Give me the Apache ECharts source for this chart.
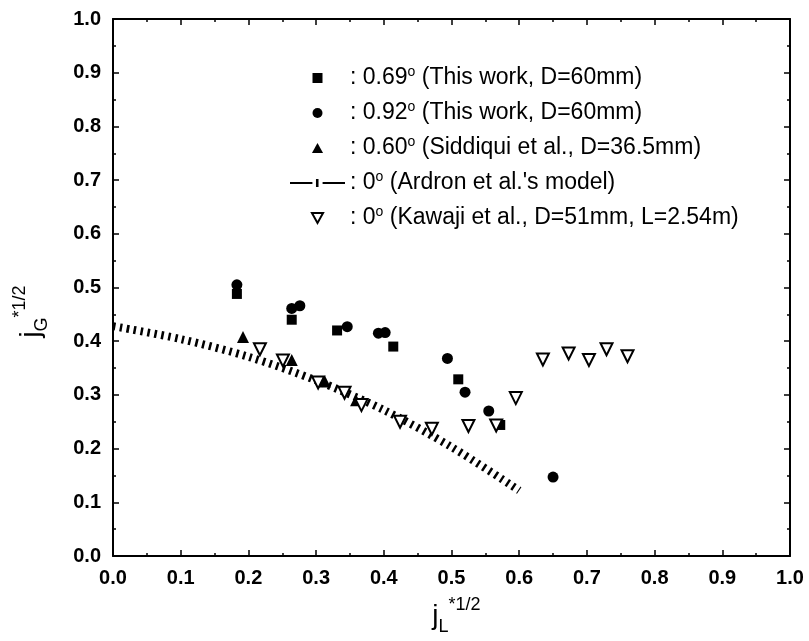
<!DOCTYPE html>
<html>
<head>
<meta charset="utf-8">
<script src="https://cdn.jsdelivr.net/npm/echarts@6/dist/echarts.min.js"></script>
<style>
  html, body { margin: 0; padding: 0; background: #fff; }
  #chart { width: 809px; height: 641px; }
</style>
</head>
<body>
<div id="chart"></div>
<script>
// Axis ticks (both axes share the same 0.0 .. 1.0 range)
const axisTicks = [0.0, 0.1, 0.2, 0.3, 0.4, 0.5, 0.6, 0.7, 0.8, 0.9, 1.0];

// 0.69 deg, this work, D = 60 mm  (jL*1/2, jG*1/2)
const incl069X = [0.183, 0.264, 0.331, 0.414, 0.510, 0.572];
const incl069Y = [0.488, 0.440, 0.420, 0.390, 0.329, 0.244];

// 0.92 deg, this work, D = 60 mm
const incl092X = [0.183, 0.264, 0.276, 0.346, 0.392, 0.402, 0.494, 0.520, 0.555, 0.650];
const incl092Y = [0.505, 0.461, 0.466, 0.427, 0.415, 0.416, 0.368, 0.305, 0.270, 0.147];

// 0.60 deg, Siddiqui et al., D = 36.5 mm
const siddiquiX = [0.192, 0.264, 0.313, 0.359];
const siddiquiY = [0.408, 0.365, 0.325, 0.290];

// 0 deg, Ardron et al.'s model
const ardronX = [0.0, 0.1, 0.2, 0.3, 0.4, 0.5, 0.6];
const ardronY = [0.428, 0.404, 0.371, 0.327, 0.272, 0.203, 0.122];

// 0 deg, Kawaji et al., D = 51 mm, L = 2.54 m
const kawajiX = [0.217, 0.251, 0.303, 0.342, 0.367, 0.424, 0.471, 0.525, 0.566, 0.595, 0.635, 0.673, 0.703, 0.729, 0.760];
const kawajiY = [0.385, 0.364, 0.323, 0.304, 0.281, 0.250, 0.237, 0.242, 0.243, 0.294, 0.366, 0.377, 0.365, 0.385, 0.372];

// Legend entries: series name -> rich label
const legendLabels = {
  s069: ': 0.69{sup|o} (This work, D=60mm)',
  s092: ': 0.92{sup|o} (This work, D=60mm)',
  s060: ': 0.60{sup|o} (Siddiqui et al., D=36.5mm)',
  ardron: ': 0{sup|o} (Ardron et al.\'s model)',
  kawaji: ': 0{sup|o} (Kawaji et al., D=51mm, L=2.54m)'
};

const FONT = '"Liberation Sans", Arial, Helvetica, sans-serif';
const zip = (xs, ys) => xs.map((x, i) => [x, ys[i]]);

function makeAxis(position, showLabels, name, nameGap, namePadding) {
  return {
    type: 'value',
    position: position,
    min: axisTicks[0],
    max: axisTicks[axisTicks.length - 1],
    interval: 0.1,
    axisLine: { show: true, onZero: false, lineStyle: { color: '#000', width: 2 } },
    axisTick: { show: true, inside: true, length: 6, lineStyle: { color: '#000', width: 1.5 } },
    minorTick: { show: true, splitNumber: 2, length: 3, lineStyle: { color: '#000', width: 1.5 } },
    splitLine: { show: false },
    minorSplitLine: { show: false },
    axisLabel: {
      show: showLabels,
      color: '#000',
      fontSize: 20,
      fontWeight: 'bold',
      fontFamily: FONT,
      margin: 12,
      formatter: v => v.toFixed(1)
    },
    name: name || '',
    nameLocation: 'middle',
    nameGap: nameGap || 0,
    nameTextStyle: {
      color: '#000',
      fontFamily: FONT,
      padding: namePadding || 0,
      rich: {
        j: { fontSize: 28, fontFamily: FONT, color: '#000', lineHeight: 40 },
        sub: { fontSize: 18, fontFamily: FONT, color: '#000', verticalAlign: 'bottom', lineHeight: 20 },
        sup: { fontSize: 18, fontFamily: FONT, color: '#000', verticalAlign: 'top', lineHeight: 17 }
      }
    }
  };
}

const chart = echarts.init(document.getElementById('chart'), null, { renderer: 'canvas' });

chart.setOption({
  backgroundColor: '#fff',
  animation: false,
  grid: { left: 113, right: 19, top: 19, bottom: 85, containLabel: false },
  xAxis: [
    makeAxis('bottom', true, '{j|j}{sub|L}{sup|*1/2}', 40, [0, 0, 0, 10]),
    makeAxis('top', false)
  ],
  yAxis: [
    makeAxis('left', true, '{j|j}{sub|G}{sup|*1/2}', 62, [0, 48, 0, 0]),
    makeAxis('right', false)
  ],
  legend: {
    orient: 'vertical',
    left: 290,
    top: 65,
    padding: 0,
    itemWidth: 55,
    itemHeight: 10,
    itemGap: 9,
    selectedMode: false,
    symbolKeepAspect: true,
    textStyle: {
      color: '#000',
      fontSize: 23,
      fontFamily: FONT,
      lineHeight: 26,
      rich: {
        sup: { fontSize: 14, fontFamily: FONT, color: '#000', verticalAlign: 'top', lineHeight: 14 }
      }
    },
    formatter: name => legendLabels[name],
    data: [
      { name: 's069', icon: 'path://M0,0h10v10h-10z' },
      { name: 's092', icon: 'circle' },
      { name: 's060', icon: 'path://M5,0L10,9L0,9z' },
      { name: 'ardron', icon: 'path://M0,5h22v2h-22z M25.5,2h2.5v8h-2.5z M32,5h22v2h-22z' },
      { name: 'kawaji', icon: 'path://M0,0L10,0L5,9z' }
    ]
  },
  series: [
    {
      name: 'ardron',
      type: 'line',
      data: zip(ardronX, ardronY),
      smooth: 0.3,
      showSymbol: false,
      symbol: 'none',
      z: 1,
      itemStyle: { color: '#000' },
      lineStyle: { color: '#000', width: 8, type: [2.5, 4.5], cap: 'butt' }
    },
    {
      name: 's069',
      type: 'scatter',
      data: zip(incl069X, incl069Y),
      symbol: 'rect',
      symbolSize: 10,
      z: 3,
      itemStyle: { color: '#000', opacity: 1 }
    },
    {
      name: 's092',
      type: 'scatter',
      data: zip(incl092X, incl092Y),
      symbol: 'circle',
      symbolSize: 11,
      z: 3,
      itemStyle: { color: '#000', opacity: 1 }
    },
    {
      name: 's060',
      type: 'scatter',
      data: zip(siddiquiX, siddiquiY),
      symbol: 'triangle',
      symbolSize: 12,
      z: 3,
      itemStyle: { color: '#000', opacity: 1 }
    },
    {
      name: 'kawaji',
      type: 'scatter',
      data: zip(kawajiX, kawajiY),
      symbol: 'triangle',
      symbolRotate: 180,
      symbolSize: 12,
      z: 4,
      itemStyle: { color: '#fff', borderColor: '#000', borderWidth: 2, opacity: 1 }
    }
  ]
});
</script>
</body>
</html>
